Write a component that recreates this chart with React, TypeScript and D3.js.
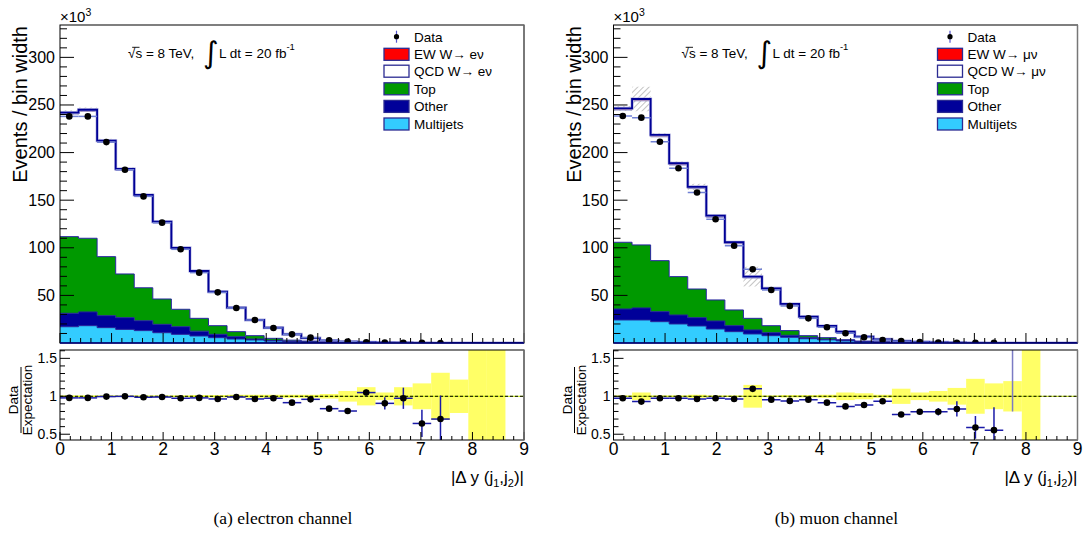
import React from "react";
import * as d3 from "d3";

// ---------- data ----------
const BIN_EDGES = [0, 0.36, 0.72, 1.08, 1.44, 1.8, 2.16, 2.52, 2.88, 3.24, 3.6, 3.96, 4.32, 4.68, 5.04, 5.4, 5.76, 6.12, 6.48, 6.84, 7.2, 7.56, 7.92, 8.28, 8.64, 9];
const X_TICKS = [0, 1, 2, 3, 4, 5, 6, 7, 8, 9];
const Y_TICKS = [50, 100, 150, 200, 250, 300];
const R_TICKS = [0.5, 1, 1.5];

// electron channel (units of 10^3 events / bin width)
const elMultijets = [17.1, 18.2, 16.1, 14.3, 13.0, 10.8, 9.1, 7.4, 5.6, 4.2, 3.2, 2.1, 1.4, 0.9, 0.5, 0.3, 0.2, 0.1, 0.05, 0.03, 0.02, 0.01, 0, 0, 0];
const elOther = [14.1, 14.4, 12.6, 12.3, 10.4, 8.8, 8.0, 5.0, 3.5, 2.4, 1.0, 0.7, 0.5, 0.3, 0.2, 0.1, 0.05, 0.05, 0.03, 0.01, 0, 0, 0, 0, 0];
const elTop = [80.5, 77.4, 62.0, 45.9, 34.6, 26.6, 18.3, 13.5, 9.1, 5.3, 3.5, 2.1, 1.1, 0.8, 0.5, 0.4, 0.25, 0.15, 0.07, 0.05, 0.03, 0.02, 0.01, 0, 0];
const elQcd = [128.8, 133.4, 120.2, 108.7, 96.0, 79.8, 63.3, 48.6, 34.7, 24.4, 15.9, 10.6, 5.75, 2.95, 1.15, 0.5, 0.23, 0.11, 0.07, 0.03, 0.02, 0.01, 0.02, 0.02, 0];
const elEw = [1.5, 1.6, 1.6, 1.6, 1.5, 1.4, 1.3, 1.1, 1.0, 0.8, 0.6, 0.5, 0.35, 0.25, 0.15, 0.1, 0.07, 0.04, 0.03, 0.02, 0.01, 0.01, 0, 0, 0];
const elData = [238, 238, 211, 182, 154, 126.4, 98.4, 73.9, 53.2, 36.8, 24.2, 15.8, 9.1, 5.6, 2.8, 1.4, 0.8, 0.4, 0.25, 0.1, 0.06];
const elRatio = [0.979, 0.979, 0.996, 0.999, 0.987, 0.99, 0.974, 0.979, 0.965, 0.99, 0.965, 0.974, 0.916, 0.96, 0.837, 0.806, 1.049, 0.907, 0.974, 0.642, 0.70];
const elRatioErr = [0.004, 0.004, 0.004, 0.005, 0.005, 0.005, 0.006, 0.007, 0.008, 0.009, 0.01, 0.012, 0.015, 0.02, 0.01, 0.01, 0.04, 0.08, 0.14, 0.18, 0.31];
const elBand = [0.01, 0.01, 0.01, 0.01, 0.01, 0.01, 0.01, 0.015, 0.015, 0.02, 0.02, 0.02, 0.02, 0.02, 0.03, 0.07, 0.12, 0.05, 0.12, 0.17, 0.31, 0.22, 2, 2, 0];

// muon channel
const muMultijets = [24.2, 24.2, 22.4, 20.0, 17.9, 14.7, 11.9, 9.5, 7.7, 6.0, 4.5, 3.3, 2.2, 1.3, 0.7, 0.4, 0.2, 0.1, 0.05, 0.03, 0.02, 0.01, 0, 0, 0];
const muOther = [11.5, 12.6, 10.5, 9.4, 8.7, 8.4, 6.3, 4.2, 3.1, 2.1, 1.1, 0.6, 0.4, 0.3, 0.2, 0.1, 0.1, 0.05, 0.03, 0.01, 0, 0, 0, 0, 0];
const muTop = [70.1, 66.2, 53.6, 40.3, 30.1, 22.1, 16.5, 12.2, 7.4, 4.9, 2.1, 1.7, 0.9, 0.4, 0.3, 0.2, 0.1, 0.05, 0.02, 0.01, 0.01, 0.01, 0.01, 0, 0];
const muQcd = [138.9, 151.4, 130.1, 117.2, 105.5, 86.8, 69.5, 42.4, 37.9, 26.9, 19.0, 11.6, 7.9, 4.25, 2.45, 1.25, 0.7, 0.43, 0.21, 0.12, 0.07, 0.04, 0.02, 0.02, 0];
const muEw = [1.8, 1.9, 1.9, 1.9, 1.8, 1.7, 1.6, 1.4, 1.3, 1.1, 0.9, 0.7, 0.5, 0.35, 0.25, 0.15, 0.1, 0.07, 0.04, 0.03, 0.02, 0.01, 0.01, 0, 0];
const muData = [238.4, 236.7, 211.4, 183.5, 158, 129.9, 102.2, 77.4, 55.7, 38.9, 25.9, 16.5, 10.2, 6.0, 3.2, 2.0, 1.0, 0.6, 0.3, 0.15, 0.08];
const muRatio = [0.974, 0.93, 0.974, 0.974, 0.965, 0.974, 0.965, 1.098, 0.956, 0.939, 0.956, 0.916, 0.867, 0.886, 0.934, 0.761, 0.797, 0.797, 0.833, 0.589, 0.554, 1.8];
const muRatioErr = [0.004, 0.004, 0.004, 0.005, 0.005, 0.005, 0.006, 0.007, 0.008, 0.009, 0.01, 0.012, 0.01, 0.015, 0.02, 0.02, 0.03, 0.05, 0.1, 0.15, 0.3, 1.0];
const muBand = [0.01, 0.05, 0.01, 0.01, 0.02, 0.01, 0.01, 0.15, 0.01, 0.015, 0.015, 0.02, 0.05, 0.04, 0.02, 0.1, 0.05, 0.07, 0.11, 0.23, 0.17, 0.2, 2, 0, 0];

const LEGEND_EL = ["Data", "EW W\u2192 e\u03bd", "QCD W\u2192 e\u03bd", "Top", "Other", "Multijets"];
const LEGEND_MU = ["Data", "EW W\u2192 \u03bc\u03bd", "QCD W\u2192 \u03bc\u03bd", "Top", "Other", "Multijets"];
const LAYER_COLORS = ["#33ccff", "#000099", "#009900", "#ffffff", "#ff0000"];
const LEGEND_FILLS = ["", "#ff0000", "#ffffff", "#009900", "#000099", "#33ccff"];

const FONT = "Liberation Sans, Arial, Helvetica, sans-serif";

type PanelProps = {
  id: string;
  left: number;
  layers: number[][];
  data: number[];
  ratio: number[];
  ratioErr: number[];
  band: number[];
  legend: string[];
  caption: string;
};

type Pt = { x: number; y0: number; y1: number };

function Panel(p: PanelProps) {
  const L = p.left;
  const W = 464;
  const UT = 25, UB = 343, LT = 350, LB = 440;
  const x = d3.scaleLinear().domain([0, 9]).range([L, L + W]);
  const yU = d3.scaleLinear().domain([0, 334]).range([UB, UT]);
  const yR = d3.scaleLinear().domain([0.424, 1.61]).range([LB, LT]);
  const n = BIN_EDGES.length - 1;
  const cum: number[][] = [new Array(n).fill(0)];
  p.layers.forEach((l, k) => cum.push(cum[k].map((v, i) => v + (l[i] ?? 0))));
  const total = cum[cum.length - 1];

  const stepPts = (lo: number[], hi: number[]): Pt[] => {
    const out: Pt[] = [];
    for (let i = 0; i < n; i++) {
      out.push({ x: BIN_EDGES[i], y0: lo[i], y1: hi[i] });
      out.push({ x: BIN_EDGES[i + 1], y0: lo[i], y1: hi[i] });
    }
    return out;
  };
  const area = d3.area<Pt>().x((d) => x(d.x)).y0((d) => yU(d.y0)).y1((d) => yU(d.y1));
  const line = d3.line<Pt>().x((d) => x(d.x)).y((d) => yU(d.y1));

  const bandLo = total.map((t, i) => t * (1 - Math.min(p.band[i], 1)));
  const bandHi = total.map((t, i) => t * (1 + p.band[i]));

  const minorX = d3.range(0, 9.001, 0.2);
  const minorY = d3.range(10, 334, 10);
  const minorR = d3.range(0.5, 1.61, 0.1);

  const lx = L + W - 140;
  const legY = [36.7, 54.3, 71.2, 88.8, 106.4, 124];

  return (
    <g>
      <defs>
        <clipPath id={`cu-${p.id}`}>
          <rect x={L} y={UT} width={W} height={UB - UT} />
        </clipPath>
        <clipPath id={`cl-${p.id}`}>
          <rect x={L} y={LT} width={W} height={LB - LT} />
        </clipPath>
      </defs>

      {/* upper panel */}
      <rect x={L} y={UT} width={W} height={UB - UT} fill="#fff" />
      <g clipPath={`url(#cu-${p.id})`}>
        {p.layers.map((_, k) => (
          <path key={k} d={area(stepPts(cum[k], cum[k + 1])) || ""} fill={LAYER_COLORS[k]} />
        ))}
        {p.layers.slice(0, 3).map((_, k) => (
          <path key={"l" + k} d={line(stepPts(cum[k], cum[k + 1])) || ""} fill="none" stroke="#22229a" strokeWidth={1} />
        ))}
        <path d={line(stepPts(cum[3], cum[4])) || ""} fill="none" stroke="#8888cc" strokeWidth={1} />
        <path d={area(stepPts(bandLo, bandHi)) || ""} fill="url(#hatch)" />
        <path d={line(stepPts(cum[4], total)) || ""} fill="none" stroke="#b0b0e0" strokeWidth={3} />
        <path d={line(stepPts(cum[4], total)) || ""} fill="none" stroke="#000096" strokeWidth={1.8} />
        {p.data.map((v, i) => (
          <line key={"dh" + i} x1={x(BIN_EDGES[i])} x2={x(BIN_EDGES[i + 1])} y1={yU(v)} y2={yU(v)} stroke="#7080d4" strokeWidth={1.5} />
        ))}
        {p.data.map((v, i) => (
          <circle key={"dc" + i} cx={x((BIN_EDGES[i] + BIN_EDGES[i + 1]) / 2)} cy={yU(v)} r={3.3} fill="#000" />
        ))}
      </g>
      {/* upper axes */}
      {minorX.map((t, i) => {
        const major = Math.abs(t - Math.round(t)) < 1e-6;
        return <line key={"ux" + i} x1={x(t)} x2={x(t)} y1={UB} y2={UB - (major ? 10 : 5)} stroke="#000" strokeWidth={1} />;
      })}
      {minorY.map((t, i) => {
        const major = t % 50 === 0;
        return <line key={"uy" + i} x1={L} x2={L + (major ? 14 : 7)} y1={yU(t)} y2={yU(t)} stroke="#000" strokeWidth={1} />;
      })}
      <rect x={L} y={UT} width={W} height={UB - UT} fill="none" stroke="#000" strokeWidth={1} />
      <line x1={L + W} x2={L + W} y1={UT} y2={UB} stroke="#777" strokeWidth={1.5} />
      <line x1={L} x2={L + W} y1={UB} y2={UB} stroke="#000080" strokeWidth={1.5} />
      {Y_TICKS.map((t) => (
        <text key={"yl" + t} x={L - 5} y={yU(t) + 5.5} textAnchor="end" fontSize={16} fontFamily={FONT}>{t}</text>
      ))}
      <text x={L} y={22} fontSize={15} fontFamily={FONT}>×10<tspan fontSize={10.5} dy={-6}>3</tspan></text>
      <text transform={`translate(${L - 33},${UT + 1}) rotate(-90)`} textAnchor="end" fontSize={20} fontFamily={FONT}>Events / bin width</text>

      {/* energy / lumi label */}
      <g fontFamily={FONT} fontSize={13.5}>
        <text x={L + 68} y={58}>√s = 8 TeV,</text>
        <line x1={L + 72.2} x2={L + 79.5} y1={47.3} y2={47.3} stroke="#000" strokeWidth={0.9} />
        <text x={L + 143} y={63} fontSize={30} fontFamily="DejaVu Sans, sans-serif">∫</text>
        <text x={L + 159} y={58}>L dt = 20 fb<tspan fontSize={9.5} dy={-8}>-1</tspan></text>
      </g>

      {/* legend */}
      <g fontFamily={FONT} fontSize={13.5}>
        {p.legend.map((lab, i) => (
          <g key={"lg" + i}>
            {i === 0 ? (
              <g>
                <line x1={lx + 12.5} x2={lx + 12.5} y1={legY[i] - 6} y2={legY[i] + 6} stroke="#5555cc" strokeWidth={1.2} />
                <circle cx={lx + 12.5} cy={legY[i]} r={2.6} fill="#000" />
              </g>
            ) : (
              <rect x={lx} y={legY[i] - 6} width={25} height={12} fill={LEGEND_FILLS[i]} stroke="#2b2b92" strokeWidth={1.3} />
            )}
            <text x={lx + 30} y={legY[i] + 5}>{lab}</text>
          </g>
        ))}
      </g>

      {/* lower panel */}
      <rect x={L} y={LT} width={W} height={LB - LT} fill="#fff" />
      <g clipPath={`url(#cl-${p.id})`}>
        {p.band.map((b, i) =>
          b > 0 ? (
            <rect key={"b" + i} x={x(BIN_EDGES[i])} width={x(BIN_EDGES[i + 1]) - x(BIN_EDGES[i])} y={yR(1 + b)} height={yR(1 - b) - yR(1 + b)} fill="#ffff55" opacity={0.9} />
          ) : null
        )}
        <line x1={L} x2={L + W} y1={yR(1)} y2={yR(1)} stroke="#b8e000" strokeWidth={1} />
        <line x1={L} x2={L + W} y1={yR(1)} y2={yR(1)} stroke="#000" strokeWidth={1} strokeDasharray="3,2" />
        {p.ratio.map((r, i) => {
          const cx = x((BIN_EDGES[i] + BIN_EDGES[i + 1]) / 2);
          const col = r > 1.61 ? "#7b7bc4" : "#1a1aa8";
          return (
            <g key={"r" + i}>
              <line x1={x(BIN_EDGES[i])} x2={x(BIN_EDGES[i + 1])} y1={yR(r)} y2={yR(r)} stroke={col} strokeWidth={1.5} />
              <line x1={cx} x2={cx} y1={yR(r + p.ratioErr[i])} y2={yR(r - p.ratioErr[i])} stroke={col} strokeWidth={1.5} />
              <circle cx={cx} cy={yR(r)} r={3.3} fill="#000" />
            </g>
          );
        })}
      </g>
      {minorX.map((t, i) => {
        const major = Math.abs(t - Math.round(t)) < 1e-6;
        return <line key={"lx" + i} x1={x(t)} x2={x(t)} y1={LB} y2={LB - (major ? 8 : 4)} stroke="#000" strokeWidth={1} />;
      })}
      {minorR.map((t, i) => {
        const major = Math.abs(t * 2 - Math.round(t * 2)) < 1e-6;
        return <line key={"ly" + i} x1={L} x2={L + (major ? 10 : 5)} y1={yR(t)} y2={yR(t)} stroke="#000" strokeWidth={1} />;
      })}
      <rect x={L} y={LT} width={W} height={LB - LT} fill="none" stroke="#000" strokeWidth={1} />
      <line x1={L + W} x2={L + W} y1={LT} y2={LB} stroke="#777" strokeWidth={1.5} />
      {R_TICKS.map((t) => (
        <text key={"rl" + t} x={L - 3} y={yR(t) + 5} textAnchor="end" fontSize={14} fontFamily={FONT}>{t}</text>
      ))}
      <g transform={`translate(${L - 39},400) rotate(-90)`} fontFamily={FONT} fontSize={13.5} textAnchor="middle">
        <text x={0} y={-3}>Data</text>
        <line x1={-33} x2={33} y1={0} y2={0} stroke="#000" strokeWidth={1} />
        <text x={0} y={11}>Expectation</text>
      </g>
      {X_TICKS.map((t) => (
        <text key={"xl" + t} x={x(t)} y={455} textAnchor="middle" fontSize={17.5} fontFamily={FONT}>{t}</text>
      ))}
      <text x={L + W} y={483} textAnchor="end" fontSize={17} fontFamily={FONT}>
        |Δ y (j<tspan fontSize={11} dy={4}>1</tspan><tspan dy={-4}>,j</tspan><tspan fontSize={11} dy={4}>2</tspan><tspan dy={-4}>)|</tspan>
      </text>

      <text x={L + W / 2 - 9} y={524} textAnchor="middle" fontSize={17.5} fontFamily="Liberation Serif, Times New Roman, serif">{p.caption}</text>
    </g>
  );
}

export default function App() {
  return (
    <svg width={1084} height={549} style={{ position: "absolute", left: 0, top: 0, background: "#fff" }}>
      <defs>
        <pattern id="hatch" patternUnits="userSpaceOnUse" width={4} height={4} patternTransform="rotate(45)">
          <line x1={0} y1={0} x2={0} y2={4} stroke="#8a8a8a" strokeWidth={1} />
        </pattern>
      </defs>
      <rect x={0} y={0} width={1084} height={549} fill="#fff" />
      <Panel id="el" left={60} layers={[elMultijets, elOther, elTop, elQcd, elEw]} data={elData} ratio={elRatio} ratioErr={elRatioErr} band={elBand} legend={LEGEND_EL} caption="(a)  electron channel" />
      <Panel id="mu" left={613.5} layers={[muMultijets, muOther, muTop, muQcd, muEw]} data={muData} ratio={muRatio} ratioErr={muRatioErr} band={muBand} legend={LEGEND_MU} caption="(b)  muon channel" />
    </svg>
  );
}
